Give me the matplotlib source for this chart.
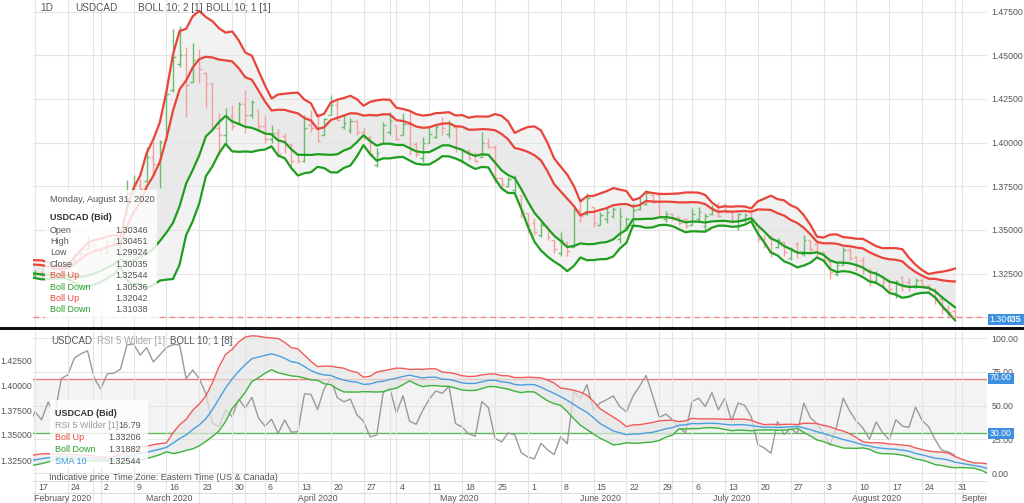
import numpy as np
import pandas as pd
import matplotlib
matplotlib.use("Agg")
import matplotlib.pyplot as plt
from matplotlib.patches import Rectangle

plt.rcParams['font.family'] = ['Liberation Sans', 'DejaVu Sans']

# closes before the visible window (only used to warm up the indicators)
pre_close = [1.3168, 1.3195, 1.3185, 1.3180, 1.3230, 1.3232, 1.3300,
             1.3293, 1.3281, 1.3306, 1.3315, 1.3303, 1.3280, 1.3263, 1.3268, 1.3243, 1.3239]

# daily bars, Feb 17 2020 .. Aug 31 2020 (one row per week)
opens = [
    1.3239, 1.3251, 1.3242, 1.3257, 1.3245,
    1.3293, 1.3301, 1.3361, 1.3390, 1.3414,
    1.3384, 1.3370, 1.3411, 1.3413, 1.3600,
    1.3713, 1.3760, 1.3780, 1.3920, 1.3876,
    1.4014, 1.4302, 1.4450, 1.4500, 1.4348,
    1.4471, 1.4400, 1.4338, 1.4085, 1.4046,
    1.4154, 1.4112, 1.4220, 1.4159, 1.4185,
    1.4093, 1.4020, 1.4053, 1.4040, 1.3993,
    1.3935, 1.3895, 1.4100, 1.4082, 1.4043,
    1.4160, 1.4217, 1.4090, 1.4070, 1.4125,
    1.4060, 1.4030, 1.3870, 1.4000, 1.4060,
    1.4101, 1.4045, 1.4106, 1.3990, 1.3910,
    1.4000, 1.4030, 1.4111, 1.4050, 1.4089,
    1.3900, 1.3950, 1.3930, 1.3920, 1.4000,
    1.3975, 1.3796, 1.3750, 1.3730, 1.3698,
    1.3595, 1.3540, 1.3470, 1.3514, 1.3440,
    1.3370, 1.3428, 1.3399, 1.3616, 1.3590,
    1.3629, 1.3530, 1.3560, 1.3580, 1.3450,
    1.3510, 1.3530, 1.3620, 1.3650, 1.3698,
    1.3700, 1.3560, 1.3590, 1.3572, 1.3560,
    1.3530, 1.3560, 1.3520, 1.3590, 1.3640,
    1.3640, 1.3605, 1.3520, 1.3560, 1.3600,
    1.3526, 1.3445, 1.3460, 1.3400, 1.3428,
    1.3340, 1.3420, 1.3360, 1.3440, 1.3420,
    1.3371, 1.3320, 1.3250, 1.3300, 1.3385,
    1.3345, 1.3330, 1.3270, 1.3205, 1.3238,
    1.3215, 1.3140, 1.3230, 1.3200, 1.3175,
    1.3215, 1.3180, 1.3160, 1.3105, 1.3044,
    1.30346]
highs = [
    1.3268, 1.3262, 1.3272, 1.3275, 1.3305,
    1.3318, 1.3368, 1.3396, 1.3470, 1.3428,
    1.3394, 1.3440, 1.3457, 1.3470, 1.3787,
    1.3813, 1.3790, 1.3974, 1.4003, 1.4014,
    1.4290, 1.4652, 1.4670, 1.4549, 1.4572,
    1.4537, 1.4405, 1.4345, 1.4170, 1.4198,
    1.4215, 1.4233, 1.4302, 1.4244, 1.4187,
    1.4158, 1.4101, 1.4080, 1.4055, 1.3997,
    1.3940, 1.4158, 1.4187, 1.4170, 1.4141,
    1.4273, 1.4244, 1.4160, 1.4141, 1.4129,
    1.4089, 1.4037, 1.3968, 1.4118, 1.4175,
    1.4101, 1.4170, 1.4187, 1.4003, 1.4032,
    1.4101, 1.4101, 1.4147, 1.4129, 1.4089,
    1.3963, 1.3963, 1.3945, 1.4060, 1.4026,
    1.3986, 1.3796, 1.3802, 1.3813, 1.3698,
    1.3595, 1.3566, 1.3543, 1.3514, 1.3440,
    1.3486, 1.3428, 1.3641, 1.3670, 1.3710,
    1.3629, 1.3600, 1.3624, 1.3629, 1.3629,
    1.3572, 1.3652, 1.3681, 1.3727, 1.3698,
    1.3716, 1.3606, 1.3595, 1.3572, 1.3566,
    1.3624, 1.3629, 1.3595, 1.3641, 1.3658,
    1.3652, 1.3612, 1.3595, 1.3595, 1.3606,
    1.3526, 1.3468, 1.3468, 1.3451, 1.3428,
    1.3399, 1.3428, 1.3468, 1.3440, 1.3428,
    1.3371, 1.3325, 1.3313, 1.3399, 1.3394,
    1.3353, 1.3342, 1.3279, 1.3267, 1.3238,
    1.3221, 1.3210, 1.3238, 1.3227, 1.3227,
    1.3227, 1.3190, 1.3165, 1.3110, 1.3070,
    1.30451]
lows = [
    1.3232, 1.3228, 1.3236, 1.3231, 1.3240,
    1.3275, 1.3292, 1.3350, 1.3385, 1.3371,
    1.3325, 1.3360, 1.3399, 1.3390, 1.3583,
    1.3690, 1.3680, 1.3773, 1.3813, 1.3739,
    1.4014, 1.4290, 1.4434, 1.4147, 1.4348,
    1.4342, 1.4198, 1.4070, 1.3928, 1.3997,
    1.4070, 1.4112, 1.4055, 1.4141, 1.4060,
    1.3997, 1.3997, 1.3920, 1.3940, 1.3859,
    1.3882, 1.3888, 1.4060, 1.4003, 1.4043,
    1.4158, 1.4129, 1.4080, 1.4055, 1.4043,
    1.4014, 1.3928, 1.3859, 1.3997, 1.4043,
    1.4014, 1.4043, 1.3928, 1.3917, 1.3888,
    1.3997, 1.4026, 1.4043, 1.4026, 1.3945,
    1.3882, 1.3899, 1.3888, 1.3917, 1.3968,
    1.3767, 1.3739, 1.3744, 1.3716, 1.3566,
    1.3480, 1.3468, 1.3457, 1.3440, 1.3365,
    1.3353, 1.3353, 1.3399, 1.3543, 1.3583,
    1.3514, 1.3526, 1.3537, 1.3566, 1.3422,
    1.3497, 1.3514, 1.3612, 1.3641, 1.3652,
    1.3572, 1.3543, 1.3549, 1.3526, 1.3509,
    1.3526, 1.3543, 1.3497, 1.3583, 1.3572,
    1.3595, 1.3537, 1.3497, 1.3543, 1.3543,
    1.3428, 1.3394, 1.3342, 1.3394, 1.3353,
    1.3325, 1.3336, 1.3353, 1.3371, 1.3342,
    1.3313, 1.3221, 1.3238, 1.3296, 1.3325,
    1.3267, 1.3250, 1.3181, 1.3198, 1.3181,
    1.3135, 1.3112, 1.3152, 1.3152, 1.3169,
    1.3169, 1.3152, 1.3078, 1.3020, 1.2998,
    1.29924]
closes = [
    1.3251, 1.3242, 1.3257, 1.3245, 1.3293,
    1.3301, 1.3361, 1.3390, 1.3414, 1.3384,
    1.3370, 1.3411, 1.3413, 1.3425, 1.3713,
    1.3760, 1.3734, 1.3920, 1.3876, 1.4005,
    1.4280, 1.4489, 1.4500, 1.4332, 1.4471,
    1.4424, 1.4338, 1.4085, 1.4046, 1.4154,
    1.4098, 1.4220, 1.4159, 1.4230, 1.4093,
    1.4020, 1.4053, 1.3934, 1.3993, 1.3894,
    1.3895, 1.4085, 1.4082, 1.4010, 1.4133,
    1.4217, 1.4132, 1.4112, 1.4125, 1.4060,
    1.4030, 1.3935, 1.3940, 1.4100, 1.4125,
    1.4020, 1.4106, 1.3960, 1.3937, 1.3995,
    1.4049, 1.4090, 1.4083, 1.4113, 1.3970,
    1.3950, 1.3910, 1.3896, 1.3996, 1.3975,
    1.3800, 1.3765, 1.3790, 1.3780, 1.3609,
    1.3528, 1.3490, 1.3530, 1.3460, 1.3393,
    1.3440, 1.3380, 1.3616, 1.3580, 1.3680,
    1.3541, 1.3583, 1.3601, 1.3620, 1.3580,
    1.3560, 1.3614, 1.3656, 1.3713, 1.3660,
    1.3580, 1.3590, 1.3570, 1.3540, 1.3521,
    1.3591, 1.3600, 1.3582, 1.3615, 1.3580,
    1.3605, 1.3550, 1.3590, 1.3585, 1.3560,
    1.3445, 1.3420, 1.3375, 1.3440, 1.3376,
    1.3390, 1.3367, 1.3440, 1.3392, 1.3370,
    1.3330, 1.3260, 1.3300, 1.3385, 1.3340,
    1.3300, 1.3270, 1.3210, 1.3250, 1.3200,
    1.3160, 1.3205, 1.3180, 1.3175, 1.3215,
    1.3180, 1.3160, 1.3110, 1.3044, 1.3030,
    1.30035]

monday_labels = ['17', '24', '2', '9', '16', '23', '30', '6', '13', '20', '27', '4', '11', '18', '25',
                 '1', '8', '15', '22', '29', '6', '13', '20', '27', '3', '10', '17', '24', '31']
month_names = ['February 2020', 'March 2020', 'April 2020', 'May 2020', 'June 2020',
               'July 2020', 'August 2020', 'September 2020']
month_starts = [8.8, 32, 54, 75, 97, 115, 141]   # bar index where each new month begins

W, H = 1024, 503
RED = '#e8443a'
GREEN = '#1e9e1e'
GRID = '#e4e4e4'
TXT = '#555555'
FS = 6.5   # small chart text
AX_FS = 6.3


def fx(px):
    return px / W


def fy(py):
    return 1 - py / H


x0 = (33 - 35) / 6.571
x1 = (987 - 35) / 6.571

fig = plt.figure(figsize=(W / 100, H / 100), dpi=100)
ax = fig.add_axes([fx(33), fy(327), fx(987) - fx(33), 327 / H])
ax2 = fig.add_axes([fx(33), fy(481), fx(987) - fx(33), 150 / H])
ax2r = ax2.twinx()
ax3 = fig.add_axes([fx(33), 0, fx(987) - fx(33), 22 / H])

n = len(closes)
idx = np.arange(n)
allc = pd.Series(pre_close + closes, index=np.arange(-len(pre_close), n))
sma = allc.rolling(10).mean()
sd = allc.rolling(10).std(ddof=0)
up2, lo2 = sma + 2 * sd, sma - 2 * sd
up1, lo1 = sma + sd, sma - sd
xs = allc.index.values

# ---------------- top panel ----------------
ax.set_xlim(x0, x1)
ax.set_ylim(1.325 - 53.5 / 1745, 1.325 + 273.5 / 1745)
ax.fill_between(xs, lo2, up2, color='#f2f2f2', lw=0, zorder=1)
ax.fill_between(xs, lo1, up1, color='#e9e9e9', lw=0, zorder=1)

o = np.array(opens); h = np.array(highs); l = np.array(lows); c = np.array(closes)
cols = np.where(c >= o, '#6dbb6d', '#f2a0a0')
ax.vlines(idx, l, h, colors=cols, lw=1.0, zorder=2)
ax.hlines(o, idx - 0.4, idx, colors=cols, lw=1.0, zorder=2)
ax.hlines(c, idx, idx + 0.4, colors=cols, lw=1.0, zorder=2)

ax.plot(xs, up2, color=RED, lw=1.6, zorder=3)
ax.plot(xs, up1, color=RED, lw=1.6, zorder=3)
ax.plot(xs, lo1, color=GREEN, lw=1.6, zorder=3)
ax.plot(xs, lo2, color=GREEN, lw=1.6, zorder=3)
ax.axhline(closes[-1], color='#f08a8a', lw=1, ls=(0, (4, 3)), zorder=3)

ax.yaxis.tick_right()
ax.set_yticks([1.300, 1.325, 1.350, 1.375, 1.400, 1.425, 1.450, 1.475])
ax.set_yticklabels(['', '1.32500', '1.35000', '1.37500', '1.40000', '1.42500', '1.45000', '1.47500'])
ax.tick_params(axis='y', length=0, pad=3, labelsize=AX_FS, labelcolor=TXT)
ax.set_xticks([])
ax.grid(axis='y', color=GRID, lw=0.8, zorder=0)

for a in (ax, ax2, ax3):
    for i in range(0, n, 5):
        a.axvline(i, color=GRID, lw=0.8, zorder=0)
    for m in month_starts:
        a.axvline(m, color=GRID, lw=0.8, zorder=0)
    for s in a.spines.values():
        s.set_visible(False)

# ---------------- bottom panel ----------------
shift = 7
ax2.set_xlim(x0, x1)
ax2.set_ylim(1.304, 1.454)
ax2r.set_ylim(-5.9, 105.2)
ax2r.axhspan(30, 70, color='#f3f3f3', lw=0, zorder=0)
ax2r.axhline(70, color='#ee7b7b', lw=1)
ax2r.axhline(30, color='#5cb85c', lw=1)
for v in (0, 25, 50, 75, 100):
    ax2r.axhline(v, color=GRID, lw=0.8, zorder=0)

ax2.fill_between(xs + shift, lo1, up1, color='#e6e6e6', alpha=0.7, lw=0, zorder=2)
ax2.plot(xs + shift, up1, color='#f05a5a', lw=1, zorder=3)
ax2.plot(xs + shift, sma, color='#4a9fe0', lw=1, zorder=3)
ax2.plot(xs + shift, lo1, color='#3cb33c', lw=1, zorder=3)
ax2.set_zorder(ax2r.get_zorder() + 1)
ax2.patch.set_visible(False)

# RSI 5, Wilder smoothing
d = allc.diff()
gain = d.clip(lower=0).ewm(alpha=1 / 5, adjust=False).mean()
loss = (-d.clip(upper=0)).ewm(alpha=1 / 5, adjust=False).mean()
rsi = 100 - 100 / (1 + gain / loss)
ax2r.plot(xs, rsi, color='#9a9a9a', lw=1, zorder=4)

ax2.set_yticks([1.325, 1.350, 1.375, 1.400, 1.425])
ax2.set_yticklabels(['1.32500', '1.35000', '1.37500', '1.40000', '1.42500'])
ax2.tick_params(axis='y', length=0, pad=1, labelsize=AX_FS, labelcolor=TXT)
ax2.set_xticks([])
ax2r.set_yticks([0, 25, 50, 75, 100])
ax2r.set_yticklabels(['0.00', '25.00', '50.00', '75.00', '100.00'])
ax2r.tick_params(axis='y', length=0, pad=3, labelsize=AX_FS, labelcolor=TXT)
for s in ax2r.spines.values():
    s.set_visible(False)

# ---------------- date strip ----------------
ax3.set_xlim(x0, x1)
ax3.set_ylim(0, 1)
ax3.set_xticks([]); ax3.set_yticks([])
ax3.axhline(0.45, color='#dddddd', lw=0.8)
ax3.axhline(0.99, color='#dddddd', lw=0.8)
for k, lab in enumerate(monday_labels):
    ax3.text(k * 5 + 0.45, 0.7, lab, fontsize=AX_FS, color=TXT, ha='left', va='center')
edges = [x0] + month_starts
for k, name in enumerate(month_names):
    if k < len(edges) - 1:
        ax3.text((edges[k] + edges[k + 1]) / 2, 0.2, name, fontsize=AX_FS, color=TXT,
                 ha='center', va='center')
    else:
        ax3.text(edges[k] + 0.1, 0.2, name, fontsize=AX_FS, color=TXT, ha='left',
                 va='center', clip_on=True)

# ---------------- separators, titles, boxes ----------------
fig.add_artist(Rectangle((0, fy(330)), 1, 3 / H, transform=fig.transFigure,
                         facecolor='#111111', lw=0))


def ftext(x, y, s, **kw):
    kw.setdefault('fontsize', FS)
    kw.setdefault('color', TXT)
    kw.setdefault('va', 'center')
    fig.text(fx(x), fy(y), s, **kw)


ftext(40, 8, '1D', fontsize=7.2)
ftext(75, 8, 'USDCAD', fontsize=7.2)
ftext(138, 8, 'BOLL 10; 2 [1]', fontsize=7.2)
ftext(206, 8, 'BOLL 10; 1 [1]', fontsize=7.2)

ftext(51, 341, 'USDCAD', fontsize=7)
ftext(97, 341, 'RSI 5 Wilder [1]', fontsize=7, color='#aaaaaa')
ftext(170, 341, 'BOLL 10; 1 [8]', fontsize=7)

# top tooltip
fig.add_artist(Rectangle((fx(45), fy(319)), (157 - 45) / W, (319 - 190) / H,
                         transform=fig.transFigure, facecolor='white', alpha=0.82, lw=0, zorder=5))
ftext(50, 200, 'Monday, August 31, 2020', fontsize=6.7, zorder=6)
ftext(50, 217, 'USDCAD (Bid)', fontweight='bold', color='#333333', zorder=6)
tip_rows = [('Open', '1.30346', TXT), ('High', '1.30451', TXT), ('Low', '1.29924', TXT),
            ('Close', '1.30035', TXT), ('Boll Up', '1.32544', RED), ('Boll Down', '1.30536', '#2a9d2a'),
            ('Boll Up', '1.32042', RED), ('Boll Down', '1.31038', '#2a9d2a')]
for k, (name, val, col) in enumerate(tip_rows):
    yy = 230 + k * 11.4
    ftext(50, yy, name, color=col, zorder=6)
    ftext(148, yy, val, ha='right', zorder=6)

# bottom tooltip
fig.add_artist(Rectangle((fx(50), fy(468)), (148 - 50) / W, (468 - 400) / H,
                         transform=fig.transFigure, facecolor='white', alpha=0.82, lw=0, zorder=5))
ftext(55, 413, 'USDCAD (Bid)', fontweight='bold', color='#333333', zorder=6)
low_rows = [('RSI 5 Wilder [1]', '16.79', '#999999'), ('Boll Up', '1.33206', RED),
            ('Boll Down', '1.31882', '#2a9d2a'), ('SMA 10', '1.32544', '#3a95dd')]
for k, (name, val, col) in enumerate(low_rows):
    yy = 426 + k * 11.7
    ftext(55, yy, name, color=col, zorder=6)
    ftext(141, yy, val, ha='right', zorder=6)

ftext(49, 477, 'Indicative price', zorder=6)
ftext(113, 477, 'Time Zone: Eastern Time (US & Canada)', zorder=6)

# value boxes on the right scales
BLUE = '#3d8fe0'
fig.add_artist(Rectangle((fx(988), fy(325)), 36 / W, 11 / H, transform=fig.transFigure,
                         facecolor=BLUE, lw=0, zorder=5))
ftext(989, 319.5, '1.30', fontsize=6.3, color='white', zorder=6)
ftext(1006.5, 319.5, '035', fontsize=6.3, color='white', fontweight='bold', zorder=6)
for val, yy in (('70.00', 378), ('30.00', 433)):
    fig.add_artist(Rectangle((fx(988), fy(yy + 5.5)), 26 / W, 11 / H, transform=fig.transFigure,
                             facecolor=BLUE, lw=0, zorder=5))
    ftext(989.5, yy, val, fontsize=6.3, color='white', zorder=6)

fig.savefig('out.png', dpi=100)
